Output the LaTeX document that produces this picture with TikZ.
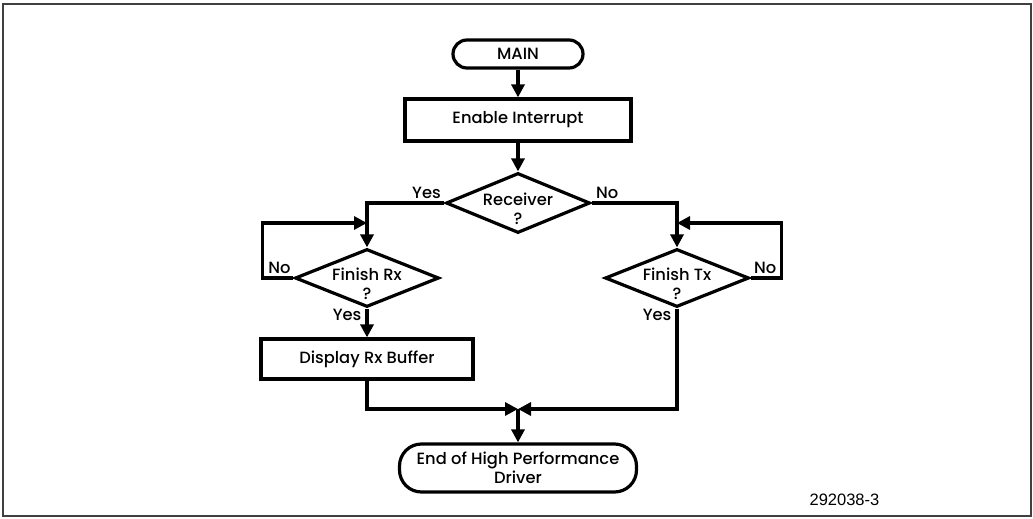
\documentclass[tikz,border=0pt]{standalone}
\usepackage{fontspec}
\setmainfont{Poppins}[UprightFont=* Medium]
\newfontfamily\reffont{Liberation Sans}
\usetikzlibrary{shapes.geometric,arrows.meta,calc}
\begin{document}
\begin{tikzpicture}[x=1pt,y=-1pt, line width=3.2pt,
  >={Triangle[length=13pt,width=13pt]},
  font=\fontsize{16.3}{19.5}\selectfont,
  term/.style={draw, rounded corners=14pt, minimum width=130pt, minimum height=28pt, inner sep=0pt, align=center},
  proc/.style={draw, minimum width=226pt, minimum height=42pt, inner sep=0pt},
  dec/.style={draw, diamond, minimum width=144pt, minimum height=60pt, inner sep=0pt},
  inlbl/.style={yshift=-6pt, align=center, inner sep=0pt},
  lbl/.style={inner sep=1pt}]
\useasboundingbox (0,0) rectangle (1033,519);
\draw[line width=1.4pt, black!75] (3,4) rectangle (1031,516);

\node[term] (main) at (518,54) {MAIN};
\node[proc] (enable) at (518,120) {Enable Interrupt};
\node[dec, label={[inlbl]center:Receiver\\?}] (recv) at (518,203) {};
\node[dec, minimum height=58pt, label={[inlbl]center:Finish Rx\\?}] (rx) at (367,278) {};
\node[dec, minimum height=58pt, label={[inlbl]center:Finish Tx\\?}] (tx) at (677,278) {};
\node[proc, minimum width=212pt, minimum height=40pt] (disp) at (367,359) {Display Rx Buffer};
\node[term, minimum width=237pt, minimum height=48pt, rounded corners=22pt] (end) at (518,468) {End of High Performance\\Driver};

\coordinate (merge) at (518,409);
\coordinate (rxin) at (367,223);
\coordinate (txin) at (677,223);

\draw[->] (main) -- (enable);
\draw[->] (enable) -- (recv);
\draw[->] (recv.west) -| (rx.north);
\draw[->] (recv.east) -| (tx.north);
\draw[->] (rx.west) -- ++(-31,0) |- (rxin);
\draw[->] (tx.east) -- ++(31,0) |- (txin);
\draw[->] (rx) -- (disp);
\draw[->] (disp.south) |- (merge);
\draw[->] (tx.south) |- (merge);
\draw[->] (merge) -- (end);

\node[lbl, anchor=south east] (ly1) at ($(recv.west)+(-1,-2)$) {Yes};
\node[lbl, anchor=south west] (ln1) at ($(recv.east)+(2,-2)$) {No};
\node[lbl, anchor=south] (ln2) at ($(rx.west)+(-14,-2)$) {No};
\node[lbl, anchor=north east] (ly2) at ($(rx.south)+(-3,-2)$) {Yes};
\node[lbl, anchor=south west] (ln3) at ($(tx.east)+(1,-2)$) {No};
\node[lbl, anchor=north east] (ly3) at ($(tx.south)+(-3,-2)$) {Yes};
\node[anchor=base west, inner sep=0pt, font=\reffont\fontsize{16.5}{19}\selectfont] (ref) at (808,505) {292038-3};
\end{tikzpicture}
\end{document}
